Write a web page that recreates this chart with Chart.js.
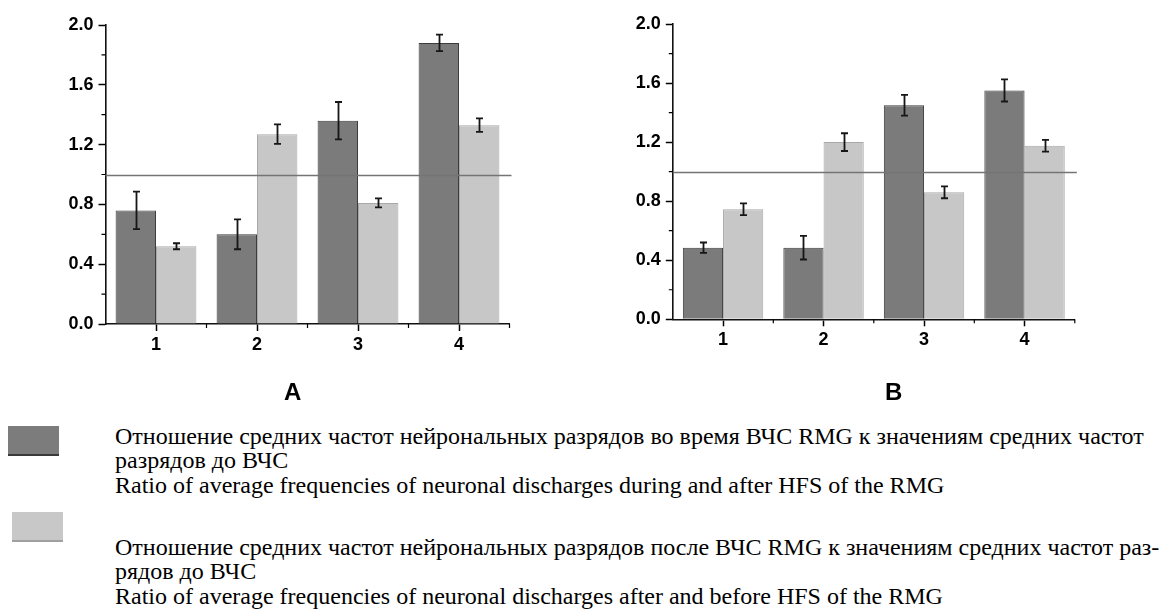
<!DOCTYPE html>
<html><head><meta charset="utf-8">
<script src="https://cdn.jsdelivr.net/npm/chart.js@4.4.1/dist/chart.umd.min.js"></script>
<style>
html,body{margin:0;padding:0;background:#fff;width:1164px;height:615px;overflow:hidden;position:relative}
canvas{position:absolute}
.lg{position:absolute;left:115px;font-family:"Liberation Serif","Times New Roman",serif;font-size:24px;line-height:24px;white-space:nowrap;color:#000}
.panel{position:absolute;font-family:"Liberation Sans",Arial,sans-serif;font-weight:bold;font-size:24px;line-height:24px;color:#000}
.sw{position:absolute;box-sizing:border-box}
</style></head><body>
<canvas id="cA" width="545" height="414" style="left:0;top:0"></canvas>
<canvas id="cB" width="560" height="414" style="left:560px;top:0"></canvas>
<div class="panel" style="left:284px;top:380px">A</div>
<div class="panel" style="left:885px;top:380px">B</div>
<div class="sw" style="left:8px;top:426px;width:51px;height:30px;background:#7c7c7c;border-bottom:2px solid #3a3a3a"></div>
<div class="sw" style="left:12px;top:512px;width:51px;height:30px;background:#c8c8c8;border-bottom:2px solid #a0a0a0"></div>
<div id="legend"></div>
<script>
// ---- data ----
const categories = ['1', '2', '3', '4'];
const tickLabelsY = ['0.0', '0.4', '0.8', '1.2', '1.6', '2.0'];
const panelA_during = [0.76, 0.60, 1.36, 1.88];
const panelA_duringErr = [0.125, 0.10, 0.125, 0.055];
const panelA_after = [0.52, 1.27, 0.81, 1.33];
const panelA_afterErr = [0.02, 0.065, 0.03, 0.045];
const panelB_during = [0.485, 0.485, 1.45, 1.55];
const panelB_duringErr = [0.035, 0.08, 0.07, 0.075];
const panelB_after = [0.745, 1.20, 0.86, 1.175];
const panelB_afterErr = [0.04, 0.06, 0.04, 0.04];
const referenceValue = 1.0;
const legendLines = [
  'Отношение средних частот нейрональных разрядов во время ВЧС RMG к значениям средних частот',
  'разрядов до ВЧС',
  'Ratio of average frequencies of neuronal discharges during and after HFS of the RMG',
  'Отношение средних частот нейрональных разрядов после ВЧС RMG к значениям средних частот раз-',
  'рядов до ВЧС',
  'Ratio of average frequencies of neuronal discharges after and before HFS of the RMG'
];
const seriesNames = [legendLines[0] + ' ' + legendLines[1], legendLines[3] + ' ' + legendLines[4]];

// ---- legend text ----
const legendTops = [424, 448, 473, 535, 559, 584];
const lgRoot = document.getElementById('legend');
legendLines.forEach((t, i) => {
  const d = document.createElement('div');
  d.className = 'lg'; d.style.top = legendTops[i] + 'px'; d.textContent = t;
  lgRoot.appendChild(d);
});

// ---- plugins ----
const refLinePlugin = {
  id: 'refLine',
  afterDatasetsDraw(chart) {
    const {ctx, chartArea, scales: {y}} = chart;
    const py = Math.round(y.getPixelForValue(referenceValue)) + 0.5;
    ctx.save();
    ctx.strokeStyle = '#747474'; ctx.lineWidth = 1.6;
    ctx.beginPath(); ctx.moveTo(chartArea.left, py); ctx.lineTo(chartArea.right + 2, py); ctx.stroke();
    ctx.restore();
  }
};
const errorBarPlugin = {
  id: 'errBars',
  afterDatasetsDraw(chart) {
    const ctx = chart.ctx, y = chart.scales.y;
    chart.data.datasets.forEach((ds, i) => {
      const meta = chart.getDatasetMeta(i);
      meta.data.forEach((bar, j) => {
        const v = ds.data[j], e = ds.errors[j];
        const yt = y.getPixelForValue(v + e), yb = y.getPixelForValue(v - e);
        const x = Math.round(bar.x) + 0.5;
        ctx.save();
        ctx.strokeStyle = '#161616'; ctx.lineWidth = 1.8;
        ctx.beginPath();
        ctx.moveTo(x, yt); ctx.lineTo(x, yb);
        ctx.moveTo(x - 3.5, yt); ctx.lineTo(x + 3.5, yt);
        ctx.moveTo(x - 3.5, yb); ctx.lineTo(x + 3.5, yb);
        ctx.stroke();
        ctx.restore();
      });
    });
  }
};
const minorTickPlugin = {
  id: 'minorTicks',
  afterDraw(chart) {
    const ctx = chart.ctx, {x, y} = chart.scales, ca = chart.chartArea;
    ctx.save();
    ctx.strokeStyle = '#000'; ctx.lineWidth = 1.2;
    ctx.beginPath();
    const yt = y.ticks;
    for (let i = 0; i < yt.length - 1; i++) {
      const p = (y.getPixelForValue(yt[i].value) + y.getPixelForValue(yt[i + 1].value)) / 2;
      ctx.moveTo(ca.left, p); ctx.lineTo(ca.left - 4, p);
    }
    const n = x.ticks.length;
    const xs = [];
    for (let i = 0; i < n; i++) xs.push(x.getPixelForTick(i));
    const step = xs[1] - xs[0];
    const bounds = [];
    for (let i = 0; i < n - 1; i++) bounds.push((xs[i] + xs[i + 1]) / 2);
    bounds.push(xs[n - 1] + step / 2);
    bounds.forEach(p => { ctx.moveTo(p, ca.bottom); ctx.lineTo(p, ca.bottom + 4); });
    ctx.stroke();
    ctx.restore();
  }
};

function makeChart(id, during, duringErr, after, afterErr, g) {
  const tickFont = {family: '"Liberation Sans", Arial, sans-serif', size: 18, weight: 'bold'};
  const axisCommon = {
    grid: {display: true, drawOnChartArea: false, drawTicks: true, tickLength: 7, tickColor: '#000', tickWidth: 1.5, offset: false},
    border: {display: true, color: '#111', width: 1.6}
  };
  return new Chart(document.getElementById(id), {
    type: 'bar',
    data: {
      labels: categories,
      datasets: [
        {label: seriesNames[0], data: during, errors: duringErr, backgroundColor: '#7b7b7b', borderColor: '#3c3c3c', borderWidth: 1, categoryPercentage: 0.8, barPercentage: 1.0},
        {label: seriesNames[1], data: after, errors: afterErr, backgroundColor: '#c7c7c7', borderColor: '#a8a8a8', borderWidth: 1, categoryPercentage: 0.8, barPercentage: 1.0}
      ]
    },
    options: {
      responsive: false, animation: false, devicePixelRatio: 1,
      layout: {padding: {top: g.top, right: g.right, left: 0, bottom: 0}},
      plugins: {legend: {display: false}, tooltip: {enabled: false}, title: {display: false}},
      scales: {
        x: Object.assign({}, axisCommon, {
          ticks: {color: '#000', font: tickFont, padding: 3},
          afterFit: s => { s.height = g.xh; }
        }),
        y: Object.assign({}, axisCommon, {
          min: 0, max: 2,
          ticks: {color: '#000', font: tickFont, padding: 5, stepSize: 0.4,
            callback: (v) => tickLabelsY[Math.round(v / 0.4)]},
          afterFit: s => { s.width = g.yw; }
        })
      }
    },
    plugins: [refLinePlugin, errorBarPlugin, minorTickPlugin]
  });
}

makeChart('cA', panelA_during, panelA_duringErr, panelA_after, panelA_afterErr, {top: 25, right: 35.5, xh: 90, yw: 105.5});
makeChart('cB', panelB_during, panelB_duringErr, panelB_after, panelB_afterErr, {top: 24, right: 45.2, xh: 94.7, yw: 112.8});
</script>
</body></html>
